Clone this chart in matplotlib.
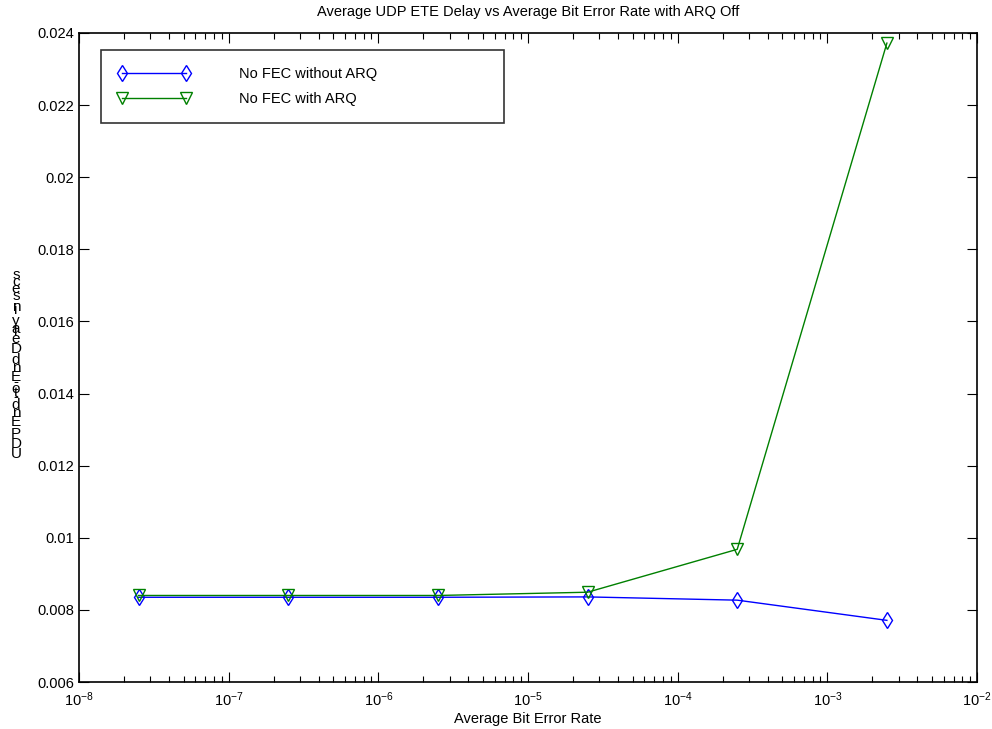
import matplotlib
matplotlib.use('Agg')
import matplotlib.pyplot as plt
from matplotlib.ticker import FormatStrFormatter, LogLocator, NullFormatter
from matplotlib.textpath import TextToPath
from matplotlib.font_manager import FontProperties

plt.rcParams['font.family'] = ['Liberation Sans', 'DejaVu Sans']
plt.rcParams['axes.unicode_minus'] = False

ber = [2.5e-8, 2.5e-7, 2.5e-6, 2.5e-5, 2.5e-4, 2.5e-3]
delay_no_arq = [0.00835, 0.00835, 0.00835, 0.00836, 0.00827, 0.00771]
delay_arq = [0.00840, 0.00840, 0.00840, 0.00849, 0.00968, 0.02372]
labels = ['No FEC without ARQ', 'No FEC with ARQ']
ylabel = 'UDP End-to-End Delay in secs'

W, H = 992, 729
fig = plt.figure(figsize=(W / 100, H / 100), dpi=100)
ax = fig.add_axes([79 / W, 1 - 682 / H, (977 - 79) / W, (682 - 33) / H])

ax.semilogx(ber, delay_no_arq, color='#0000ff', marker='d', mfc='none', ms=8.5,
            lw=1, label=labels[0])
ax.semilogx(ber, delay_arq, color='#008000', marker='v', mfc='none', ms=9,
            lw=1, label=labels[1])

ax.set_xlim(1e-8, 1e-2)
ax.set_ylim(0.006, 0.024)
ax.set_yticks([0.006 + 0.002 * i for i in range(10)])
ax.yaxis.set_major_formatter(FormatStrFormatter('%g'))
ax.xaxis.set_major_locator(LogLocator(base=10, numticks=10))
ax.xaxis.set_minor_locator(LogLocator(base=10, subs=range(2, 10), numticks=20))
ax.xaxis.set_minor_formatter(NullFormatter())
ax.tick_params(which='both', direction='in', top=True, right=True, labelsize=10.5,
               width=0.8)
ax.tick_params(which='major', length=7)
ax.tick_params(which='minor', length=4)
ax.tick_params(axis='x', pad=6)
for s in ax.spines.values():
    s.set_linewidth(1.2)

ax.set_title('Average UDP ETE Delay vs Average Bit Error Rate with ARQ Off',
             fontsize=10.5, pad=12)
ax.set_xlabel('Average Bit Error Rate', fontsize=10.5, labelpad=2)

lx0 = (101 - 79) / 898
ly1 = (682 - 50) / 649
lw_ = 403 / 898
lh = 73 / 649
leg = ax.legend(loc='upper left', bbox_to_anchor=(lx0, ly1 - lh, lw_, lh), mode='expand',
                fontsize=10.5, frameon=True, fancybox=False, edgecolor='black',
                numpoints=2, handlelength=5.0, handletextpad=3.3, borderpad=1.15,
                labelspacing=0.8, borderaxespad=0)
leg.get_frame().set_linewidth(1.2)

# y label drawn with upright glyphs stacked vertically, as in the source image
prop = FontProperties(family='Liberation Sans', size=11)
t2p = TextToPath()
k = 100 / 72 * 0.89
total = t2p.get_text_width_height_descent(ylabel, prop, ismath=False)[0] * k
y0 = 368 + total / 2
for i, ch in enumerate(ylabel):
    off = t2p.get_text_width_height_descent(ylabel[:i], prop, ismath=False)[0] * k if i else 0
    fig.text(16 / W, 1 - (y0 - off) / H, ch, fontproperties=prop,
             ha='center', va='bottom')

fig.savefig('out.png', dpi=100)
